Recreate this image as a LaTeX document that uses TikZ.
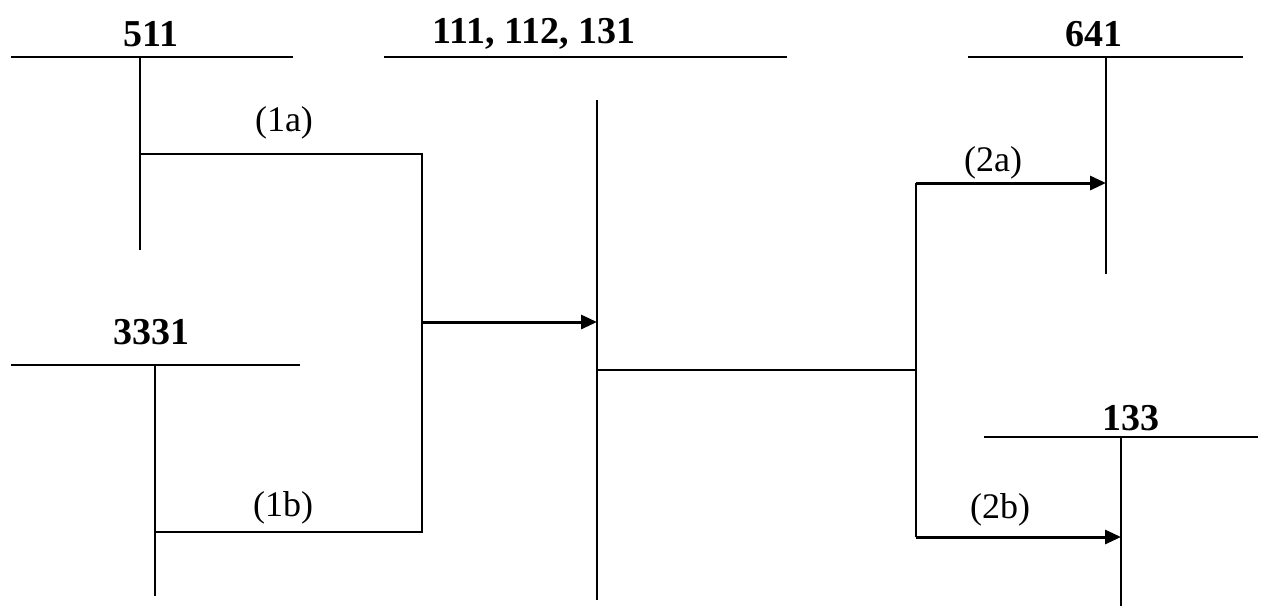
\documentclass[tikz,border=0pt]{standalone}
\usepackage{fontspec}
\setmainfont{Liberation Serif}
\usetikzlibrary{arrows.meta}
\begin{document}
\begin{tikzpicture}[
      x=0.5pt, y=-0.5pt,
      acct/.style={font=\bfseries\fontsize{19}{21}\selectfont, inner sep=0pt},
      entry/.style={font=\fontsize{18}{20}\selectfont, inner sep=0pt},
      tline/.style={draw, line width=1pt},
      flow/.style={draw, line width=1.5pt, -{Triangle[length=8pt, width=7pt]}}
    ]
      \useasboundingbox (0,0) rectangle (1261,606);
      % account titles
      \node[acct] (t511) at (151,34) {511};
      \node[acct] (t111) at (534,34) {111, 112, 131};
      \node[acct] (t641) at (1094,34) {641};
      \node[acct] (t3331) at (151,332) {3331};
      \node[acct] (t133) at (1131,418) {133};
      % T accounts
      \coordinate (a511w) at (11,57);    \coordinate (a511e) at (293,57);
      \coordinate (a511t) at (140,57);   \coordinate (a511b) at (140,250);
      \coordinate (a111w) at (384,57);   \coordinate (a111e) at (787,57);
      \coordinate (a111t) at (597,100);  \coordinate (a111b) at (597,600);
      \coordinate (a641w) at (968,57);   \coordinate (a641e) at (1243,57);
      \coordinate (a641t) at (1106,57);  \coordinate (a641b) at (1106,274);
      \coordinate (a3331w) at (11,365);  \coordinate (a3331e) at (300,365);
      \coordinate (a3331t) at (155,365); \coordinate (a3331b) at (155,596);
      \coordinate (a133w) at (984,437);  \coordinate (a133e) at (1258,437);
      \coordinate (a133t) at (1121,437); \coordinate (a133b) at (1121,606);
      \foreach \acc in {511,111,641,3331,133} {
        \path[tline] (a\acc w) -- (a\acc e);
        \path[tline] (a\acc t) -- (a\acc b);
      }
      % entries in
      \coordinate (s1a) at (140,154);
      \coordinate (s1b) at (155,532);
      \coordinate (j1a) at (422,154);
      \coordinate (j1b) at (422,532);
      \coordinate (j1) at (422,322);
      \coordinate (d111) at (597,322);
      \path[tline] (s1a) -- (j1a) -- (j1b) -- (s1b);
      \path[flow] (j1) -- (d111);
      % entries out
      \coordinate (c111) at (597,370);
      \coordinate (j2) at (916,370);
      \coordinate (j2a) at (916,183);
      \coordinate (j2b) at (916,537);
      \coordinate (d641) at (1106,183);
      \coordinate (d133) at (1121,537);
      \path[tline] (c111) -- (j2);
      \path[tline] (j2a) -- (j2b);
      \path[flow] (j2a) -- (d641);
      \path[flow] (j2b) -- (d133);
      % labels
      \node[entry] (e1a) at (284,123) {(1a)};
      \node[entry] (e1b) at (283,508) {(1b)};
      \node[entry] (e2a) at (993,163) {(2a)};
      \node[entry] (e2b) at (1000,510) {(2b)};
    \end{tikzpicture}
\end{document}
